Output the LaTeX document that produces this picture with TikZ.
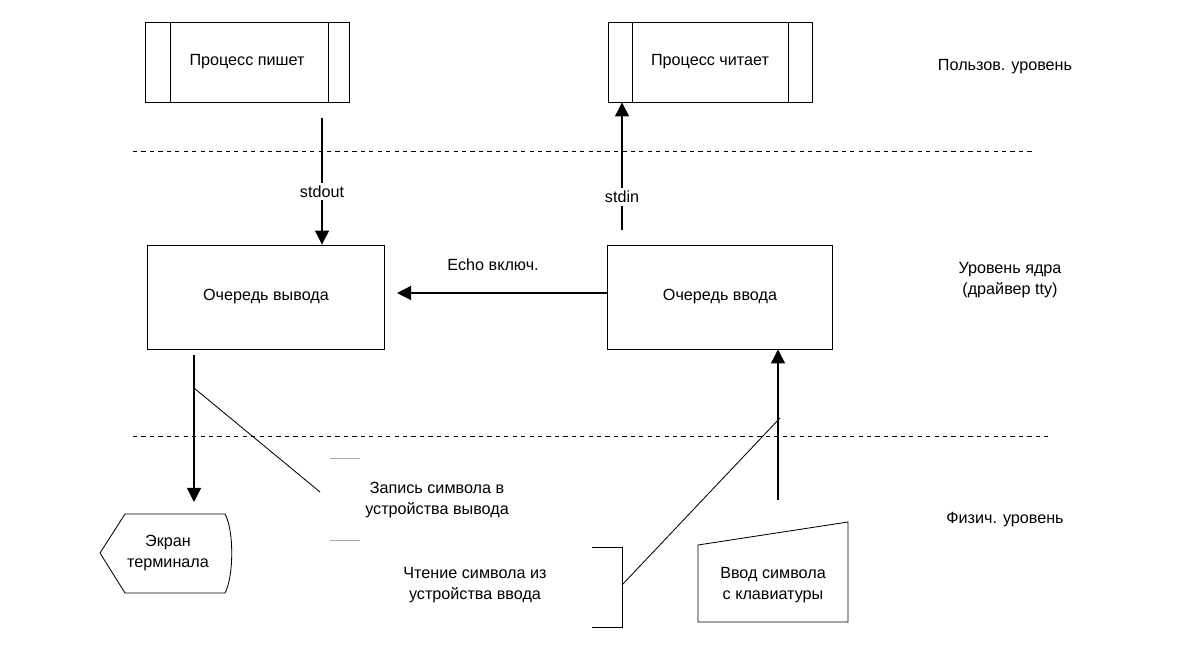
\documentclass[tikz,border=0pt]{standalone}
\usepackage{fontspec}
\setmainfont{Liberation Sans}
\usetikzlibrary{arrows.meta}
\tikzset{
  box/.style={draw, rectangle, minimum width=5.9cm, minimum height=2.6cm, line width=0.6pt},
  proc/.style={draw, rectangle, minimum width=5.1cm, minimum height=2cm, line width=0.6pt},
  lbl/.style={align=center, font=\fontsize{11.5}{14.5}\selectfont},
  flow/.style={line width=0.8pt, -{Triangle[length=10pt,width=10pt]}},
  level/.style={dashed, line width=0.5pt},
}
\begin{document}
\begin{tikzpicture}[x=0.025cm, y=-0.025cm]
  \useasboundingbox (0,0) rectangle (1200,669);
  \node[proc] (Write) at (247,62) {};
  \node[lbl] at (Write) {Процесс пишет};
  \draw[line width=0.6pt] (170,22) -- (170,102) (328,22) -- (328,102);
  \node[proc] (Read) at (710,62) {};
  \node[lbl] at (Read) {Процесс читает};
  \draw[line width=0.6pt] (632,22) -- (632,102) (788,22) -- (788,102);
  \node[lbl] (UserLvl) at (1005,67) {Пользов. уровень};

  \draw[level] (133,151) -- (1035,151);

  \node[box, minimum width=5.92cm] (OutQ) at (266,297) {};
  \node[lbl] at (OutQ) {Очередь вывода};
  \node[box, minimum width=5.62cm] (InQ) at (720,297) {};
  \node[lbl] at (InQ) {Очередь ввода};
  \node[lbl] (KernLvl) at (1010,280) {Уровень ядра\\(драйвер tty)};

  \coordinate (wout) at (322,118);
  \draw[flow] (wout) -- (OutQ.north -| wout) coordinate (wend)
    node[pos=0.58, fill=white, lbl, inner sep=2pt] {stdout};
  \coordinate (rin) at (622,230);
  \draw[flow] (rin) -- (Read.south -| rin)
    node[pos=0.26, fill=white, lbl, inner sep=2pt] {stdin};
  \draw[flow] (InQ.west |- 0,293) -- (397,293);
  \node[lbl] (Echo) at (493,265) {Echo включ.};

  \draw[level] (133,436) -- (1048,436);

  % screen
  \draw[line width=0.6pt] (100,553) -- (125,514) -- (225,514)
    .. controls (234,530) and (234,576) .. (225,593) -- (125,593) -- cycle;
  \node[lbl] (Screen) at (168,553) {Экран\\терминала};
  \coordinate (oq) at (194,355);
  \draw[flow] (oq) -- (194,502);
  \coordinate (wtap) at (194,388);
  \draw[line width=0.6pt] (wtap) -- (320,492);
  \draw[gray!70, line width=0.6pt] (330,458) -- (360,458) (330,540) -- (360,540);
  \node[lbl] (WriteNote) at (437,500) {Запись символа в\\устройства вывода};

  % keyboard
  \draw[line width=0.6pt] (698,545) -- (848,522) -- (848,622) -- (698,622) -- cycle;
  \node[lbl] (Keys) at (773,585) {Ввод символа\\с клавиатуры};
  \draw[flow] (778,500) -- (InQ.south -| 778,0);
  \draw[line width=0.6pt] (592,547) -- (622,547) -- (622,627) -- (592,627);
  \draw[line width=0.6pt] (622,585) -- (780,418);
  \node[lbl] (ReadNote) at (475,585) {Чтение символа из\\устройства ввода};

  \node[lbl] (PhysLvl) at (1005,520) {Физич. уровень};
\end{tikzpicture}
\end{document}
